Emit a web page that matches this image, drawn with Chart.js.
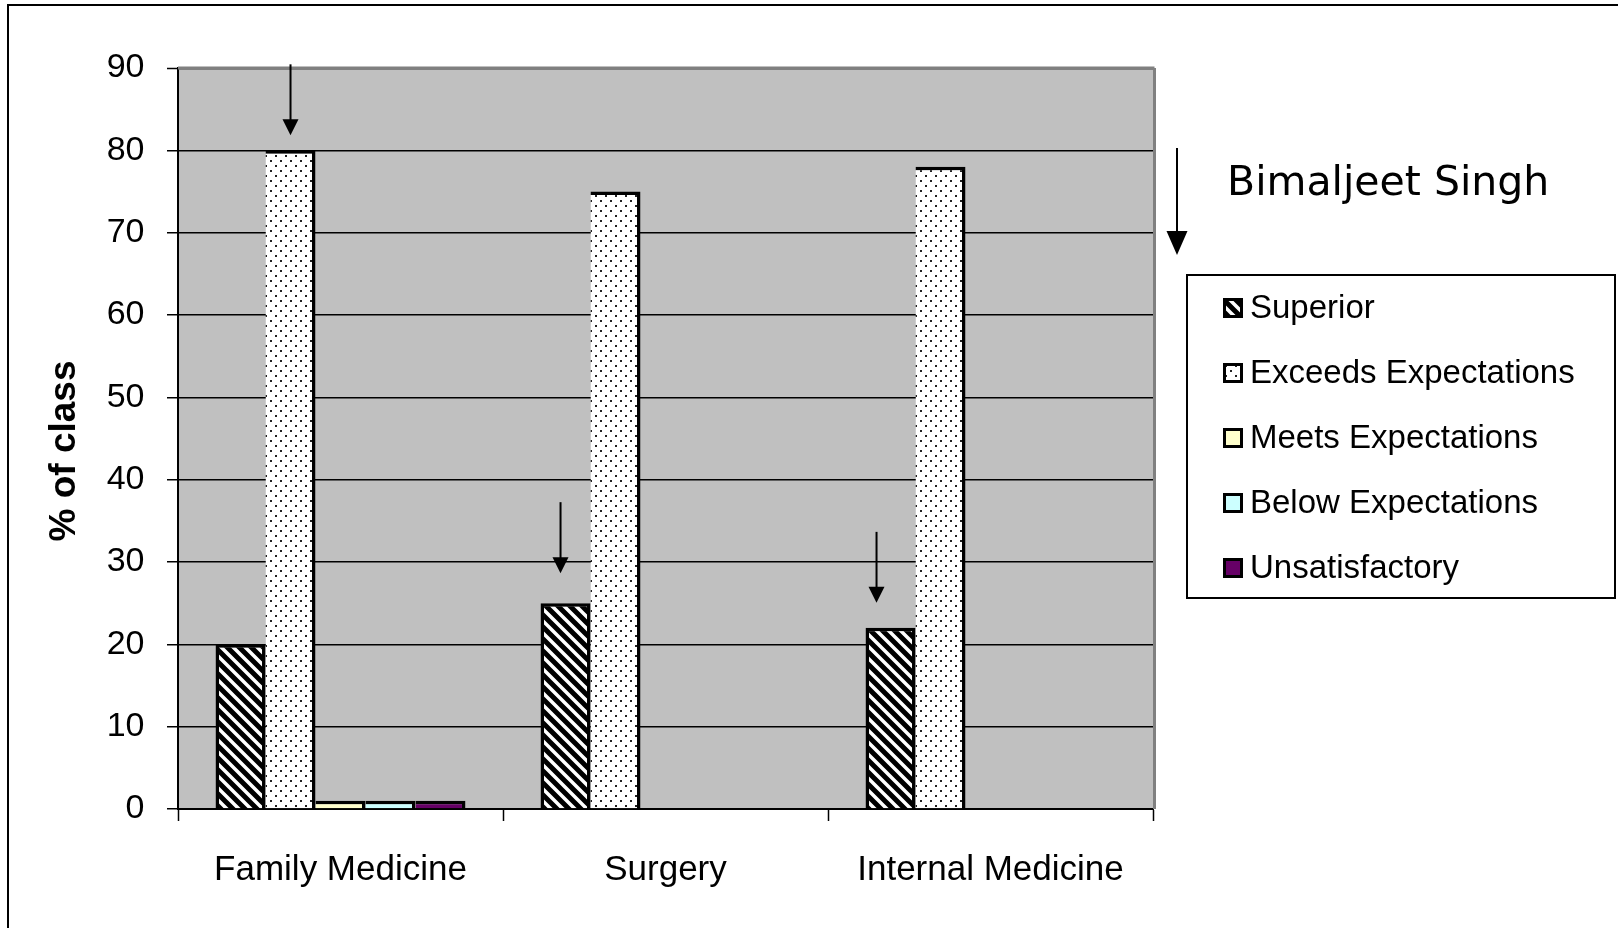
<!DOCTYPE html>
<html><head><meta charset="utf-8">
<script src="https://cdn.jsdelivr.net/npm/chart.js@4"></script>
<style>html,body{margin:0;padding:0;background:#fff}canvas{display:block}</style>
</head><body>
<canvas id="c" width="1618" height="928"></canvas>
<script>
// ---- data ----
const categories = ['Family Medicine', 'Surgery', 'Internal Medicine'];
const seriesNames = ['Superior', 'Exceeds Expectations', 'Meets Expectations', 'Below Expectations', 'Unsatisfactory'];
const superior = [20, 25, 22];
const exceedsExpectations = [80, 75, 78];
const meetsExpectations = [1, 0, 0];
const belowExpectations = [1, 0, 0];
const unsatisfactory = [1, 0, 0];
const yTickValues = [0, 10, 20, 30, 40, 50, 60, 70, 80, 90];
const yAxisTitle = '% of class';
const studentName = 'Bimaljeet Singh';
const markedCategories = ['Family Medicine', 'Surgery', 'Internal Medicine'];
const markedSeries = ['Exceeds Expectations', 'Superior', 'Superior'];

// ---- patterns ----
const canvas = document.getElementById('c');
const mainCtx = canvas.getContext('2d');
function stripePattern() {
  const s = 12, t = document.createElement('canvas');
  t.width = t.height = s;
  const x = t.getContext('2d');
  x.fillStyle = '#fff'; x.fillRect(0, 0, s, s);
  x.strokeStyle = '#000'; x.lineWidth = 5; x.beginPath();
  for (let k = -1; k <= 1; k++) { x.moveTo(k * s - s, -s); x.lineTo(k * s + 2 * s, 2 * s); }
  x.stroke();
  return mainCtx.createPattern(t, 'repeat');
}
function dotPattern() {
  const s = 10, t = document.createElement('canvas');
  t.width = t.height = s;
  const x = t.getContext('2d');
  x.fillStyle = '#fff'; x.fillRect(0, 0, s, s);
  x.fillStyle = '#222';
  x.fillRect(0, 0, 2, 2); x.fillRect(5, 5, 2, 2);
  return mainCtx.createPattern(t, 'repeat');
}
const fills = [stripePattern(), dotPattern(), '#FFFFCC', '#CCFFFF', '#660066'];
const seriesValues = [superior, exceedsExpectations, meetsExpectations, belowExpectations, unsatisfactory];

const datasets = seriesNames.map((name, i) => ({
  label: name,
  data: seriesValues[i],
  backgroundColor: fills[i],
  borderColor: '#000',
  borderWidth: i === 0 ? {top: 3.5, left: 3.5, right: 3.5, bottom: 0} : {top: 3.5, left: 0, right: 3.5, bottom: 0},
  borderSkipped: 'start',
  categoryPercentage: 0.769,
  barPercentage: 1
}));

// annotation arrow drawing offsets (style only)
const arrowDx = [0, -5, -14];
const arrowGap = [15, 30, 25];

function drawArrow(ctx, x, yTop, yTip, headW, headH, lw) {
  ctx.beginPath();
  ctx.moveTo(x, yTop); ctx.lineTo(x, yTip - headH + 1);
  ctx.lineWidth = lw; ctx.strokeStyle = '#000'; ctx.stroke();
  ctx.beginPath();
  ctx.moveTo(x, yTip); ctx.lineTo(x - headW / 2, yTip - headH); ctx.lineTo(x + headW / 2, yTip - headH);
  ctx.closePath(); ctx.fillStyle = '#000'; ctx.fill();
}

const decor = {
  id: 'decor',
  beforeDraw(chart) {
    const {ctx, chartArea: a} = chart;
    ctx.save();
    ctx.fillStyle = '#fff'; ctx.fillRect(0, 0, chart.width, chart.height);
    ctx.fillStyle = '#C0C0C0'; ctx.fillRect(a.left, a.top, a.right - a.left, a.bottom - a.top);
    ctx.fillStyle = '#000';
    ctx.fillRect(7, 4, chart.width - 7, 2);
    ctx.fillRect(7, 4, 2, chart.height - 4);
    ctx.restore();
  },
  afterDatasetsDraw(chart) {
    const {ctx, chartArea: a} = chart;
    ctx.save();
    ctx.strokeStyle = '#808080'; ctx.lineWidth = 3;
    ctx.beginPath();
    ctx.moveTo(a.left, a.top); ctx.lineTo(a.right + 1.5, a.top);
    ctx.moveTo(a.right + 1.5, a.top); ctx.lineTo(a.right + 1.5, a.bottom);
    ctx.stroke();
    ctx.restore();
  },
  afterDraw(chart) {
    const {ctx} = chart;
    ctx.save();
    // y axis title
    ctx.save();
    ctx.translate(65, 451);
    ctx.rotate(-Math.PI / 2);
    ctx.font = 'bold 37px "Liberation Sans"';
    ctx.fillStyle = '#000';
    ctx.textAlign = 'center'; ctx.textBaseline = 'middle';
    ctx.fillText(yAxisTitle, 0, 0);
    ctx.restore();
    // arrows over marked bars
    markedCategories.forEach((cat, k) => {
      const di = seriesNames.indexOf(markedSeries[k]);
      const ci = categories.indexOf(cat);
      const bar = chart.getDatasetMeta(di).data[ci];
      const tip = bar.y - arrowGap[k];
      drawArrow(ctx, bar.x + arrowDx[k], tip - 71, tip, 16, 16, 2);
    });
    // name annotation
    drawArrow(ctx, 1177, 148, 255, 21, 24, 2);
    ctx.fillStyle = '#000';
    ctx.font = '41px "DejaVu Sans"';
    ctx.textBaseline = 'alphabetic'; ctx.textAlign = 'left';
    ctx.fillText(studentName, 1227, 195);
    // legend
    ctx.lineWidth = 2; ctx.strokeStyle = '#000';
    ctx.strokeRect(1187, 275, 428, 323);
    ctx.font = '33px "Liberation Sans"';
    ctx.textBaseline = 'middle';
    chart.data.datasets.forEach((ds, i) => {
      const cy = 308 + i * 65;
      ctx.fillStyle = ds.backgroundColor;
      ctx.fillRect(1223, cy - 10, 20, 20);
      ctx.lineWidth = 3; ctx.strokeStyle = '#000';
      ctx.strokeRect(1224.5, cy - 8.5, 17, 17);
      ctx.fillStyle = '#000';
      ctx.fillText(ds.label, 1250, cy + 1);
    });
    ctx.restore();
  }
};

new Chart(canvas, {
  type: 'bar',
  data: {labels: categories, datasets},
  plugins: [decor],
  options: {
    responsive: false,
    devicePixelRatio: 1,
    animation: false,
    events: [],
    layout: {padding: {left: 0, top: 68, right: 465, bottom: 0}},
    plugins: {legend: {display: false}, tooltip: {enabled: false}, title: {display: false}},
    scales: {
      x: {
        afterFit: s => { s.height = 119; },
        grid: {display: true, drawOnChartArea: false, drawTicks: true, tickLength: 12, tickColor: '#000', tickWidth: 1.5, offset: true},
        border: {display: true, color: '#000', width: 2},
        ticks: {font: {family: 'Liberation Sans', size: 35}, color: '#000', padding: 28, maxRotation: 0, autoSkip: false}
      },
      y: {
        min: 0, max: 90,
        afterFit: s => { s.width = 178; },
        afterBuildTicks: s => { s.ticks = yTickValues.map(v => ({value: v})); },
        grid: {
          color: c => (c.tick && c.tick.value === 90) ? '#808080' : '#000',
          lineWidth: c => (c.tick && c.tick.value === 90) ? 3 : 1.5,
          tickColor: '#000', tickWidth: 1.5, tickLength: 11, drawTicks: true
        },
        border: {display: true, color: '#000', width: 2},
        ticks: {font: {family: 'Liberation Sans', size: 34}, color: '#000', padding: 22.5},
        title: {display: false, text: yAxisTitle}
      }
    }
  }
});
</script>
</body></html>
